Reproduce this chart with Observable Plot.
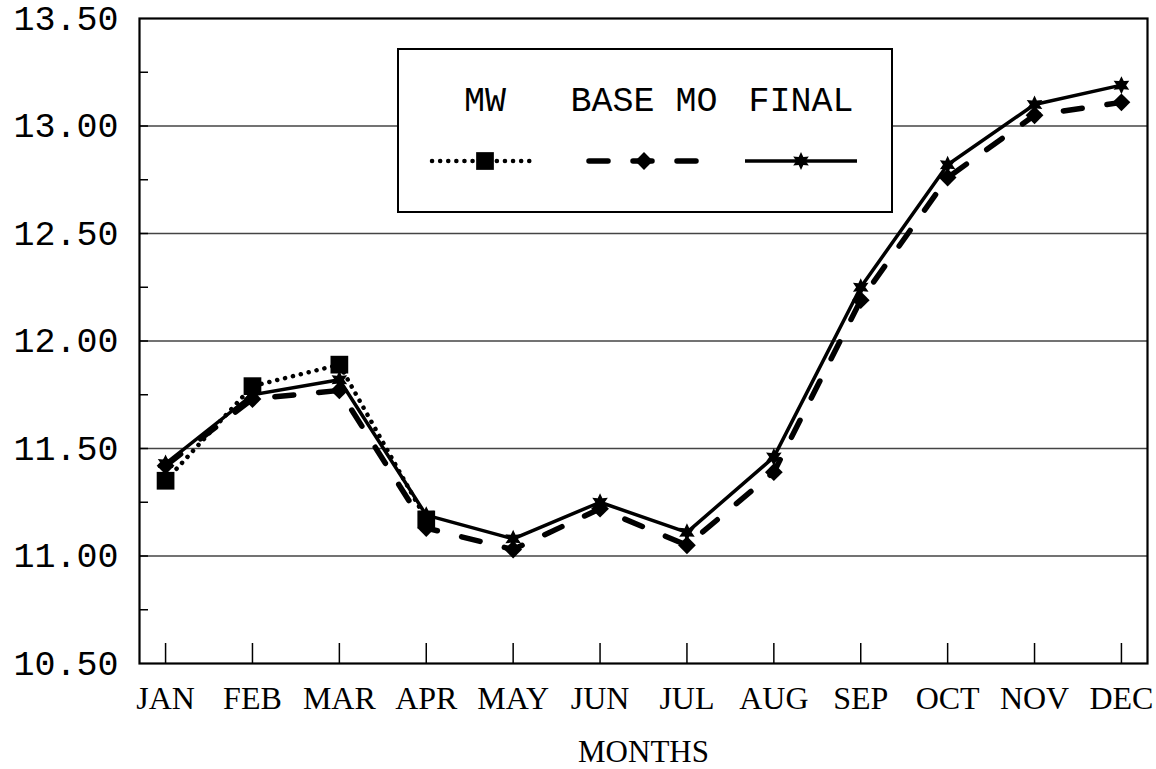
<!DOCTYPE html>
<html><head><meta charset="utf-8">
<script src="https://cdn.jsdelivr.net/npm/d3@7"></script>
<script src="https://cdn.jsdelivr.net/npm/@observablehq/plot@0.6"></script>
<style>
body{margin:0;background:#fff;}
#wrap{position:relative;width:1156px;height:769px;}
#legend{position:absolute;left:397px;top:48px;width:496px;height:165px;box-sizing:border-box;border:2px solid #000;background:#fff;}
#legend svg{display:block;}
</style></head><body><div id="wrap"></div>
<script>
const months = ["JAN","FEB","MAR","APR","MAY","JUN","JUL","AUG","SEP","OCT","NOV","DEC"];
const finalValues  = [11.43, 11.75, 11.82, 11.19, 11.08, 11.25, 11.11, 11.46, 12.25, 12.82, 13.10, 13.19];
const baseMoValues = [11.42, 11.73, 11.77, 11.13, 11.03, 11.22, 11.05, 11.39, 12.19, 12.76, 13.05, 13.11];
const mwMonths = ["JAN","FEB","MAR","APR"];
const mwValues = [11.35, 11.79, 11.89, 11.17];
const yTickValues = [10.5, 11, 11.5, 12, 12.5, 13, 13.5];
const yMinorTicks = [10.75, 11, 11.25, 11.5, 11.75, 12, 12.25, 12.5, 12.75, 13, 13.25];
const gridValues = [11, 11.5, 12, 12.5, 13];
const seriesNames = ["MW", "BASE MO", "FINAL"];
const xTitle = "MONTHS";

const star6 = {draw(ctx, size){
  const R = Math.sqrt(size / Math.PI), r = R * 0.52;
  for (let i = 0; i < 12; i++) {
    const a = i * Math.PI / 6 - Math.PI / 2, rr = i % 2 ? r : R;
    const x = rr * Math.cos(a), y = rr * Math.sin(a);
    if (i) ctx.lineTo(x, y); else ctx.moveTo(x, y);
  }
  ctx.closePath();
}};

const finalData = months.map((m, i) => ({month: m, value: finalValues[i]}));
const baseData = months.map((m, i) => ({month: m, value: baseMoValues[i]}));
const mwData = mwMonths.map((m, i) => ({month: m, value: mwValues[i]}));

const styles = {
  mw: {stroke: "#000", strokeWidth: 4.5, strokeDasharray: "0.1,8", strokeLinecap: "round"},
  base: {stroke: "#000", strokeWidth: 5.5, strokeDasharray: "19,25", strokeLinecap: "round"},
  fin: {stroke: "#000", strokeWidth: 3.5}
};
const sym = {mw: {symbol: "square", r: 10}, base: {symbol: "diamond2", r: 8}, fin: {symbol: star6, r: 9}};

const chart = Plot.plot({
  width: 1156, height: 769,
  marginLeft: 139, marginRight: 9, marginTop: 18, marginBottom: 106,
  style: {background: "#fff", color: "#000"},
  x: {type: "point", domain: months, padding: 0.3, round: false},
  y: {domain: [10.5, 13.5]},
  marks: [
    Plot.ruleY(gridValues, {stroke: "#444", strokeWidth: 1.4}),
    Plot.line(mwData, {x: "month", y: "value", ...styles.mw}),
    Plot.line(baseData, {x: "month", y: "value", ...styles.base}),
    Plot.line(finalData, {x: "month", y: "value", ...styles.fin}),
    Plot.dot(mwData, {x: "month", y: "value", ...sym.mw, fill: "#000"}),
    Plot.dot(baseData, {x: "month", y: "value", ...sym.base, fill: "#000"}),
    Plot.dot(finalData, {x: "month", y: "value", ...sym.fin, fill: "#000"}),
    Plot.frame({stroke: "#000", strokeWidth: 2.2}),
    Plot.axisY(yMinorTicks, {tickSize: -9, fill: "none", strokeWidth: 1.5}),
    Plot.axisY(yTickValues, {tickSize: 0, tickPadding: 21, tickFormat: d => d.toFixed(2), fontSize: 35, fontFamily: "Liberation Mono", label: null}),
    Plot.axisX({tickSize: -20, fill: "none", strokeWidth: 1.5}),
    Plot.axisX({tickSize: 0, tickPadding: 23, fontSize: 32, fontFamily: "Liberation Serif", label: null}),
    Plot.text([xTitle], {frameAnchor: "bottom", dy: 98, fontSize: 31, fontFamily: "Liberation Serif"})
  ]
});
const wrap = document.getElementById("wrap");
wrap.appendChild(chart);

// Legend (inside the plot area, as in the reference)
const legendItems = [
  {name: seriesNames[0], cx: 86, x1: 33, x2: 138, line: styles.mw, symbol: d3.symbolSquare, r: sym.mw.r},
  {name: seriesNames[1], cx: 245, x1: 190, x2: 301, line: styles.base, symbol: d3.symbolDiamond2, r: sym.base.r},
  {name: seriesNames[2], cx: 402, x1: 346, x2: 458, line: styles.fin, symbol: star6, r: sym.fin.r}
];
const leg = d3.select(wrap).append("div").attr("id", "legend");
const svg = leg.append("svg").attr("width", 492).attr("height", 161);
const g = svg.selectAll("g").data(legendItems).join("g");
g.append("text")
  .attr("x", d => d.cx).attr("y", 52)
  .attr("text-anchor", "middle").attr("dominant-baseline", "central")
  .attr("font-family", "Liberation Mono").attr("font-size", 35).attr("fill", "#000")
  .text(d => d.name);
g.append("line")
  .attr("x1", d => d.x1).attr("x2", d => d.x2).attr("y1", 111).attr("y2", 111)
  .attr("stroke", "#000")
  .attr("stroke-width", d => d.line.strokeWidth)
  .attr("stroke-dasharray", d => d.line.strokeDasharray || null)
  .attr("stroke-linecap", d => d.line.strokeLinecap || null);
g.append("path")
  .attr("transform", d => `translate(${d.cx},111)`)
  .attr("d", d => d3.symbol(d.symbol, d.r * d.r * Math.PI)())
  .attr("fill", "#000");
</script>
</body></html>
